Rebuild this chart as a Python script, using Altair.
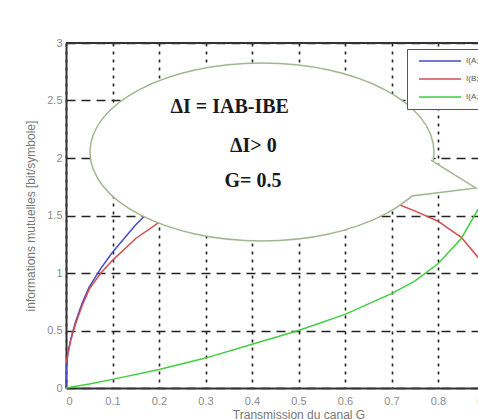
import altair as alt
import pandas as pd

# ---------------- data ----------------
series_names = ["I(A;B)", "I(B;E)", "I(A;E)"]
series_colors = ["#4a4ac8", "#d24e4e", "#3fcf3f"]

g_ab = [0, 0.001, 0.004, 0.01, 0.02, 0.035, 0.05, 0.075, 0.1, 0.125, 0.15, 0.175, 0.2,
        0.3, 0.4, 0.5, 0.6, 0.7, 0.8, 0.9]
i_ab = [0, 0.18, 0.3, 0.42, 0.57, 0.74, 0.88, 1.04, 1.18, 1.3, 1.42, 1.52, 1.6,
        1.85, 2.02, 2.17, 2.3, 2.41, 2.5, 2.6]

g_be = [0.001, 0.004, 0.01, 0.02, 0.035, 0.05, 0.075, 0.1, 0.15, 0.2, 0.3, 0.4, 0.5,
        0.6, 0.7, 0.75, 0.8, 0.85, 0.9]
i_be = [0.22, 0.3, 0.41, 0.55, 0.72, 0.86, 1.0, 1.11, 1.3, 1.44, 1.62, 1.72, 1.76,
        1.73, 1.62, 1.54, 1.45, 1.31, 1.07]

g_ae = [0, 0.05, 0.1, 0.2, 0.3, 0.4, 0.5, 0.6, 0.7, 0.75, 0.8, 0.85, 0.9]
i_ae = [0.0, 0.035, 0.075, 0.16, 0.26, 0.38, 0.5, 0.64, 0.82, 0.93, 1.08, 1.3, 1.65]

x_ticks = [0, 0.1, 0.2, 0.3, 0.4, 0.5, 0.6, 0.7, 0.8, 0.9]
y_ticks = [0, 0.5, 1, 1.5, 2, 2.5, 3]

# annotation bubble (centre in data units) and its text lines
bubble_g = [0.4215]
bubble_i = [2.052]
note_lines = ["\u0394I = IAB-IBE", "\u0394I> 0", "G= 0.5"]
note_g = [0.352, 0.403, 0.402]
note_i = [2.391, 2.052, 1.748]

# ---------------- tables ----------------
rows = []
for name, gs, vs in zip(series_names, [g_ab, g_be, g_ae], [i_ab, i_be, i_ae]):
    for g, v in zip(gs, vs):
        rows.append({"G": g, "I": v, "serie": name})
df = pd.DataFrame(rows)
df_bubble = pd.DataFrame({"G": bubble_g, "I": bubble_i})
df_note = pd.DataFrame({"G": note_g, "I": note_i, "txt": note_lines})

xscale = alt.Scale(domain=[0, 1], range=[0, 465], nice=False, zero=False)
yscale = alt.Scale(domain=[0, 3], nice=False, zero=False)

x_axis = alt.Axis(values=x_ticks, format="~g", grid=True, gridDash=[3, 5],
                  gridColor="#222", gridWidth=1.6, ticks=False, domain=True,
                  domainColor="#333", domainWidth=2, labelPadding=7,
                  labelColor="#8c8c8c", labelFontSize=11, labelFont="Liberation Sans",
                  title="Transmission du canal G", titleFont="Liberation Sans",
                  titleFontSize=12, titleFontWeight="normal", titleColor="#777",
                  titleX=232.5, titleY=21, titleBaseline="top", titleAlign="center")
y_axis = alt.Axis(values=y_ticks, format="~g", grid=True, gridDash=[9, 6],
                  gridColor="#222", gridWidth=1.6, ticks=False, domain=True,
                  domainColor="#333", domainWidth=2, labelPadding=4,
                  labelColor="#8c8c8c", labelFontSize=11, labelFont="Liberation Sans",
                  title="informations mutuelles [bit/symbole]", titleFont="Liberation Sans",
                  titleFontSize=12, titleFontWeight="normal", titleColor="#777",
                  titleX=-36, titleY=172.5, titleAngle=270, titleAlign="center",
                  titleBaseline="middle")

lines = alt.Chart(df).mark_line(strokeWidth=1.5).encode(
    x=alt.X("G:Q", scale=xscale, axis=x_axis),
    y=alt.Y("I:Q", scale=yscale, axis=y_axis),
    color=alt.Color("serie:N",
                    scale=alt.Scale(domain=series_names, range=series_colors),
                    legend=alt.Legend(orient="none", legendX=341, legendY=6, title=None,
                                      padding=8, strokeColor="#555", fillColor="white",
                                      symbolType="M 0 0 L 21 0", symbolSize=16,
                                      symbolStrokeWidth=1.5, labelOffset=43,
                                      labelFontSize=8, labelColor="#555",
                                      rowPadding=10, labelFont="Liberation Sans")),
)

ellipse_path = ("M 0.86 0 C 0.86 0.2458 0.475 0.445 0 0.445 "
                "C -0.475 0.445 -0.86 0.2458 -0.86 0 "
                "C -0.86 -0.2458 -0.475 -0.445 0 -0.445 "
                "C 0.475 -0.445 0.86 -0.2458 0.86 0 Z")
tail_path = "M 0.845 0.04 L 1.07 0.18 L 0.75 0.22 L 0.705 0.255"

bubble = alt.Chart(df_bubble).mark_point(
    shape=ellipse_path, size=160000, filled=True, fill="white",
    stroke="#a2b68e", strokeWidth=1.5, opacity=1, fillOpacity=1, strokeOpacity=1,
).encode(x=alt.X("G:Q", scale=xscale), y=alt.Y("I:Q", scale=yscale))

tail = alt.Chart(df_bubble).mark_point(
    shape=tail_path, size=160000, filled=True, fill="white",
    stroke="#a2b68e", strokeWidth=1.5, opacity=1, fillOpacity=1, strokeOpacity=1,
).encode(x=alt.X("G:Q", scale=xscale), y=alt.Y("I:Q", scale=yscale))

notes = alt.Chart(df_note).mark_text(
    font="Liberation Serif", fontWeight="bold", fontSize=20, align="center",
    baseline="alphabetic", color="#1a1a1a",
).encode(x=alt.X("G:Q", scale=xscale), y=alt.Y("I:Q", scale=yscale), text="txt:N")

top = alt.Chart(df_bubble).mark_rule(color="#333", strokeWidth=2).encode(
    y=alt.datum(3, scale=yscale), x=alt.value(0), x2=alt.value(465))

chart = alt.layer(lines, bubble, tail, notes, top).properties(
    width=412, height=345,
    autosize=alt.AutoSizeParams(type="none"),
    padding={"left": 66, "top": 43, "right": 0, "bottom": 31},
).configure_view(stroke=None)

chart.save("out.html", embed_options={"renderer": "svg", "actions": False})
